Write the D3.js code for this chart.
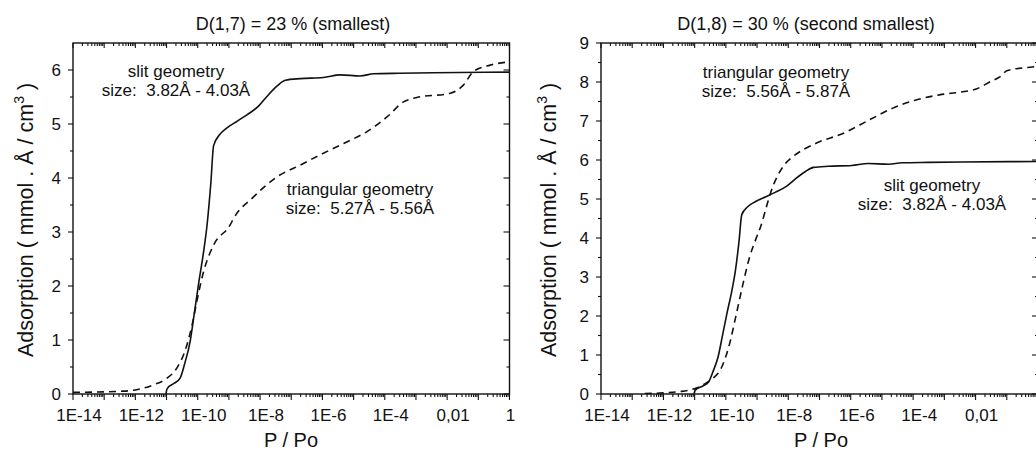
<!DOCTYPE html>
<html>
<head>
<meta charset="utf-8">
<script src="https://cdn.jsdelivr.net/npm/d3@7"></script>
<style>
  html, body { margin: 0; padding: 0; background: #fff; }
  svg { display: block; }
  text { font-family: "Liberation Sans", Arial, sans-serif; fill: #111; white-space: pre; }
</style>
</head>
<body>
<svg id="chart" width="1036" height="450"></svg>
<script>
// ---------- DATA ----------
const panelTitles = ["D(1,7) = 23 % (smallest)", "D(1,8) = 30 % (second smallest)"];
const xTickLabels = ["1E-14", "1E-12", "1E-10", "1E-8", "1E-6", "1E-4", "0,01", "1"];
const xTickValues = [1e-14, 1e-12, 1e-10, 1e-8, 1e-6, 1e-4, 1e-2, 1];
const yTicksLeft = [0, 1, 2, 3, 4, 5, 6];
const yTicksRight = [0, 1, 2, 3, 4, 5, 6, 7, 8, 9];

// slit geometry (same pore size in both panels): log10(P/Po) and adsorption
const slitLogP = [-11.02, -10.98, -10.75, -10.56, -10.40, -10.25, -10.12, -9.97, -9.81, -9.70, -9.58, -9.49,
                  -9.30, -9.06, -8.74, -8.42, -8.05, -7.78, -7.46, -7.19, -6.71, -5.97, -5.43, -4.79, -4.36,
                  -3.51, -2.44, 0];
const slitValues = [0.0, 0.1, 0.2, 0.3, 0.6, 0.95, 1.45, 2.05, 2.64, 3.13, 3.9, 4.6,
                    4.8, 4.93, 5.05, 5.17, 5.33, 5.51, 5.70, 5.81, 5.84, 5.86, 5.91, 5.89, 5.93,
                    5.94, 5.95, 5.96];

// triangular geometry, D(1,7)
const tri17LogP = [-14, -13, -12.5, -12.06, -11.42, -10.99, -10.67, -10.40, -10.18, -10.02, -9.81, -9.49,
                   -8.96, -8.85, -8.21, -7.46, -6.71, -6.07, -5.32, -4.57, -3.93, -3.40, -2.97, -1.90,
                   -1.48, -1.16, -0.62, 0];
const tri17Values = [0.03, 0.04, 0.05, 0.07, 0.17, 0.29, 0.48, 0.81, 1.28, 1.74, 2.27, 2.76,
                     3.13, 3.25, 3.65, 4.02, 4.24, 4.43, 4.64, 4.86, 5.13, 5.41, 5.49, 5.57,
                     5.72, 5.97, 6.09, 6.15];

// triangular geometry, D(1,8)
const tri18LogP = [-12.6, -12.0, -11.5, -10.96, -10.6, -10.42, -10.15, -9.89, -9.67, -9.46, -9.25, -9.03,
                   -8.87, -8.7, -8.55, -8.34, -8.1, -7.86, -7.11, -6.25, -5.40, -4.65, -3.90, -3.16,
                   -2.41, -1.98, -1.55, -1.16, -1.00, -0.25, 0];
const tri18Values = [0.01, 0.03, 0.06, 0.15, 0.3, 0.40, 0.66, 1.26, 2.03, 2.79, 3.48, 3.99,
                     4.33, 4.8, 5.2, 5.6, 5.9, 6.08, 6.43, 6.68, 7.03, 7.33, 7.54, 7.67,
                     7.75, 7.82, 8.0, 8.17, 8.29, 8.38, 8.4];

const slitLabel = ["slit geometry", "size:  3.82Å - 4.03Å"];
const tri17Label = ["triangular geometry", "size:  5.27Å - 5.56Å"];
const tri18Label = ["triangular geometry", "size:  5.56Å - 5.87Å"];

// ---------- DRAW ----------
const W = 1036;
const svg = d3.select("#chart");
const toPoints = (logs, vals) => logs.map((e, i) => ({p: Math.pow(10, e), v: vals[i]}));

function drawPanel(cfg) {
  const g = svg.append("g");
  const x = d3.scaleLog().domain([1e-14, 1]).range([cfg.left, cfg.right]);
  const y = d3.scaleLinear().domain([0, cfg.yMax]).range([cfg.bottom, cfg.top]);

  const clipId = "clip" + cfg.id;
  svg.append("clipPath").attr("id", clipId).append("rect")
    .attr("x", cfg.left).attr("y", cfg.top - 2)
    .attr("width", cfg.right - cfg.left).attr("height", cfg.bottom - cfg.top + 2);

  // frame
  g.append("rect").attr("x", cfg.left).attr("y", cfg.top)
    .attr("width", cfg.right - cfg.left).attr("height", cfg.bottom - cfg.top)
    .attr("fill", "none").attr("stroke", "#111").attr("stroke-width", 1.4);

  // x ticks (decades major, 2..9 minor)
  const decades = d3.range(-14, 1).map(e => Math.pow(10, e));
  const minors = [];
  d3.range(-14, 0).forEach(e => { for (let k = 2; k <= 9; k++) minors.push(k * Math.pow(10, e)); });
  const tk = g.append("g").attr("stroke", "#111").attr("stroke-width", 1.1);
  decades.forEach(d => {
    const xx = x(d);
    tk.append("line").attr("x1", xx).attr("x2", xx).attr("y1", cfg.bottom).attr("y2", cfg.bottom + 6);
    tk.append("line").attr("x1", xx).attr("x2", xx).attr("y1", cfg.top).attr("y2", cfg.top + 5);
  });
  minors.forEach(d => {
    const xx = x(d);
    tk.append("line").attr("x1", xx).attr("x2", xx).attr("y1", cfg.bottom).attr("y2", cfg.bottom + 3);
    tk.append("line").attr("x1", xx).attr("x2", xx).attr("y1", cfg.top).attr("y2", cfg.top + 3);
  });
  // y ticks
  const yMinor = d3.range(0.5, cfg.yMax, 1);
  cfg.yTicks.forEach(v => {
    const yy = y(v);
    tk.append("line").attr("x1", cfg.left - 5).attr("x2", cfg.left).attr("y1", yy).attr("y2", yy);
    tk.append("line").attr("x1", cfg.right - 6).attr("x2", cfg.right).attr("y1", yy).attr("y2", yy);
  });
  yMinor.forEach(v => {
    const yy = y(v);
    tk.append("line").attr("x1", cfg.left - 3).attr("x2", cfg.left).attr("y1", yy).attr("y2", yy);
    tk.append("line").attr("x1", cfg.right - 3).attr("x2", cfg.right).attr("y1", yy).attr("y2", yy);
  });

  // tick labels (labels falling outside the picture are not drawn, as in the cropped original)
  xTickValues.forEach((v, i) => {
    const lab = xTickLabels[i];
    const cx = x(v) + (lab.length > 1 ? 6 : 1);
    if (cx + 5 > W) return;
    g.append("text").attr("x", cx).attr("y", 421)
      .attr("text-anchor", "middle").attr("font-size", 17).text(lab);
  });
  cfg.yTicks.forEach(v => {
    g.append("text").attr("x", cfg.left - 12).attr("y", y(v)).attr("dy", "0.36em")
      .attr("text-anchor", "end").attr("font-size", 17).text(v);
  });

  // axis titles
  g.append("text").attr("x", cfg.xTitleX).attr("y", 447).attr("text-anchor", "middle")
    .attr("font-size", 20).text("P / Po");
  const yt = g.append("text").attr("transform", `translate(${cfg.yTitleX},220) rotate(-90)`)
    .attr("text-anchor", "middle").attr("font-size", 21.5);
  yt.append("tspan").text("Adsorption ( mmol . Å / cm");
  yt.append("tspan").attr("font-size", 14).attr("dy", -9).text("3");
  yt.append("tspan").attr("dy", 9).text(" )");

  // panel title
  g.append("text").attr("x", cfg.titleX).attr("y", 30).attr("text-anchor", "middle")
    .attr("font-size", 18).text(cfg.title);

  // curves
  const line = d3.line().x(d => x(d.p)).y(d => y(d.v)).curve(d3.curveMonotoneX);
  const cg = g.append("g").attr("clip-path", `url(#${clipId})`);
  cg.append("path").datum(toPoints(cfg.triLog, cfg.triVals))
    .attr("d", line).attr("fill", "none").attr("stroke", "#111")
    .attr("stroke-width", 1.6).attr("stroke-dasharray", "7,5");
  cg.append("path").datum(toPoints(slitLogP, slitValues))
    .attr("d", line).attr("fill", "none").attr("stroke", "#111").attr("stroke-width", 1.6);

  // annotations
  cfg.notes.forEach(n => {
    n.lines.forEach((t, i) => {
      g.append("text").attr("x", n.x).attr("y", n.y + i * 19).attr("text-anchor", "middle")
        .attr("font-size", 17).text(t);
    });
  });
}

drawPanel({
  id: 1, left: 73, right: 509.5, top: 43, bottom: 394, yMax: 6.5, yTicks: yTicksLeft,
  title: panelTitles[0], titleX: 293, xTitleX: 291, yTitleX: 33,
  triLog: tri17LogP, triVals: tri17Values,
  notes: [{lines: slitLabel, x: 176, y: 77}, {lines: tri17Label, x: 360, y: 195}]
});
drawPanel({
  id: 2, left: 601, right: 1038, top: 43, bottom: 394, yMax: 9, yTicks: yTicksRight,
  title: panelTitles[1], titleX: 806, xTitleX: 821, yTitleX: 556,
  triLog: tri18LogP, triVals: tri18Values,
  notes: [{lines: tri18Label, x: 776, y: 78}, {lines: slitLabel, x: 932, y: 191}]
});
</script>
</body>
</html>
